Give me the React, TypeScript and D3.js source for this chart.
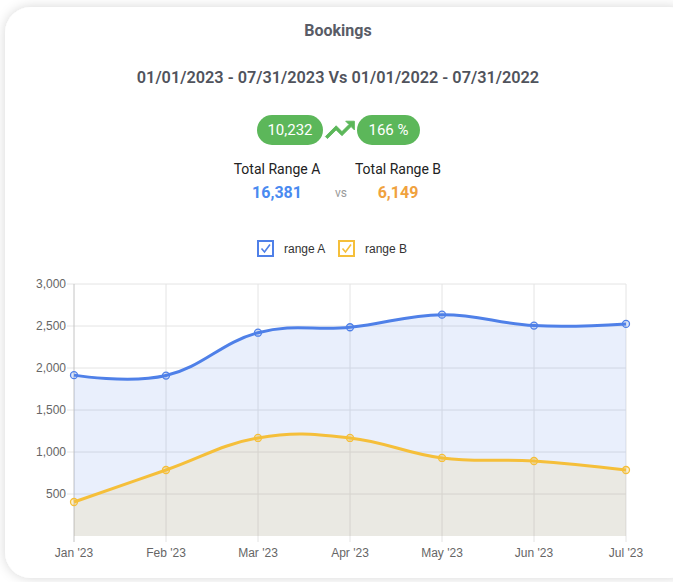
import * as d3 from 'd3';

const months = ["Jan '23", "Feb '23", "Mar '23", "Apr '23", "May '23", "Jun '23", "Jul '23"];
const rangeA = [1915, 1910, 2420, 2485, 2635, 2505, 2525];
const rangeB = [405, 786, 1167, 1167, 929, 893, 786];
const yTicks = [500, 1000, 1500, 2000, 2500, 3000];

const totalA = '16,381';
const totalB = '6,149';
const diffValue = '10,232';
const diffPct = '166 %';

const W = 673;
const H = 582;
const margin = { top: 284, right: 47, bottom: 46, left: 74 };

const blue = '#4f80e8';
const yellow = '#f5bf3a';
const fmt = d3.format(',');

export default function App() {
  const innerW = W - margin.left - margin.right;
  const innerH = H - margin.top - margin.bottom;

  const x = d3.scalePoint<string>().domain(months).range([0, innerW]);
  const y = d3.scaleLinear().domain([0, 3000]).range([innerH, 0]);

  // chart.js 風格的平滑曲線 (tension 0.4)
  const curve = d3.curveCardinal.tension(-0.2);
  const line = d3.line<number>()
    .x((_, i) => x(months[i]) as number)
    .y((d) => y(d))
    .curve(curve);
  const area = d3.area<number>()
    .x((_, i) => x(months[i]) as number)
    .y0(y(0))
    .y1((d) => y(d))
    .curve(curve);

  const series = [
    { data: rangeA, color: blue, fill: 'rgba(79,128,232,0.125)', pt: 'rgba(79,128,232,0.2)' },
    { data: rangeB, color: yellow, fill: 'rgba(245,191,58,0.125)', pt: 'rgba(245,191,58,0.25)' },
  ];

  return (
    <svg width={W} height={H} style={{ position: 'absolute', left: 0, top: 0 }}
      fontFamily="Roboto, 'Noto Sans', sans-serif">
      <defs>
        <filter id="shadow" x="-10%" y="-10%" width="120%" height="120%">
          <feDropShadow dx="0" dy="0" stdDeviation="6" floodColor="#000" floodOpacity="0.16" />
        </filter>
      </defs>
      <rect x={0} y={0} width={W} height={H} fill="#fff" />
      <rect x={5} y={7} width={690} height={571} rx={26} fill="#fff" filter="url(#shadow)" />

      {/* header */}
      <text x={338} y={36} textAnchor="middle" fontSize={16} fontWeight={700} fill="#595c66">Bookings</text>
      <text x={338} y={83} textAnchor="middle" fontSize={16.3} fontWeight={600} fill="#50535c">
        01/01/2023 - 07/31/2023 Vs 01/01/2022 - 07/31/2022
      </text>

      <rect x={257} y={115} width={66} height={30} rx={15} fill="#5cb75a" />
      <text x={290} y={135} textAnchor="middle" fontSize={15} fill="#fff">{diffValue}</text>
      <path transform="translate(322.5,112.5) scale(1.45)"
        d="M16 6l2.29 2.29-4.88 4.88-4-4L2 16.59 3.41 18l6-6 4 4 6.3-6.29L22 12V6z" fill="#5cb75a"
        stroke="#5cb75a" strokeWidth={0.6} strokeLinejoin="round" />
      <rect x={357} y={115} width={63} height={30} rx={15} fill="#5cb75a" />
      <text x={388.5} y={135} textAnchor="middle" fontSize={15} fill="#fff">{diffPct}</text>

      <text x={277} y={174} textAnchor="middle" fontSize={14} fill="#222">Total Range A</text>
      <text x={398} y={174} textAnchor="middle" fontSize={14} fill="#222">Total Range B</text>
      <text x={277} y={198} textAnchor="middle" fontSize={16} fontWeight={700} fill="#4a8af0">{totalA}</text>
      <text x={341} y={197} textAnchor="middle" fontSize={12} fill="#9a9a9a">vs</text>
      <text x={398} y={198} textAnchor="middle" fontSize={16} fontWeight={700} fill="#f0a23e">{totalB}</text>

      {/* legend */}
      {[{ label: 'range A', color: blue, bx: 258, tx: 284 }, { label: 'range B', color: yellow, bx: 339, tx: 365 }].map((l) => (
        <g key={l.label}>
          <rect x={l.bx} y={241} width={15} height={15} fill="#fff" stroke={l.color} strokeWidth={2} />
          <polyline points={`${l.bx + 3.5},${248.5} ${l.bx + 6.5},${252} ${l.bx + 12},${244.5}`}
            fill="none" stroke={l.color} strokeWidth={1.6} />
          <text x={l.tx} y={253} fontSize={12} fill="#333" fontFamily="'Liberation Sans', Arial, sans-serif">{l.label}</text>
        </g>
      ))}

      {/* chart */}
      <g transform={`translate(${margin.left},${margin.top})`} fontFamily="'Liberation Sans', Arial, sans-serif">
        {yTicks.map((t) => (
          <g key={t}>
            <line x1={-7} x2={innerW} y1={y(t)} y2={y(t)} stroke="#e4e4e4" />
            <text x={-8} y={y(t)} dy="0.35em" textAnchor="end" fontSize={12} fill="#666">{fmt(t)}</text>
          </g>
        ))}
        {months.map((m, i) => (
          <g key={m}>
            <line x1={x(m)} x2={x(m)} y1={0} y2={innerH + 6} stroke={i === 0 ? '#c4c4c4' : '#e4e4e4'} />
            <text x={x(m)} y={innerH + 21} textAnchor="middle" fontSize={12} fill="#666">{m}</text>
          </g>
        ))}

        {series.map((s, k) => (
          <path key={'a' + k} d={area(s.data) as string} fill={s.fill} />
        ))}
        {series.map((s, k) => (
          <g key={'l' + k}>
            <path d={line(s.data) as string} fill="none" stroke={s.color} strokeWidth={3} />
            {s.data.map((v, i) => (
              <circle key={i} cx={x(months[i])} cy={y(v)} r={3.5} fill={s.pt} stroke={s.color} strokeWidth={1.3} />
            ))}
          </g>
        ))}
      </g>
    </svg>
  );
}
